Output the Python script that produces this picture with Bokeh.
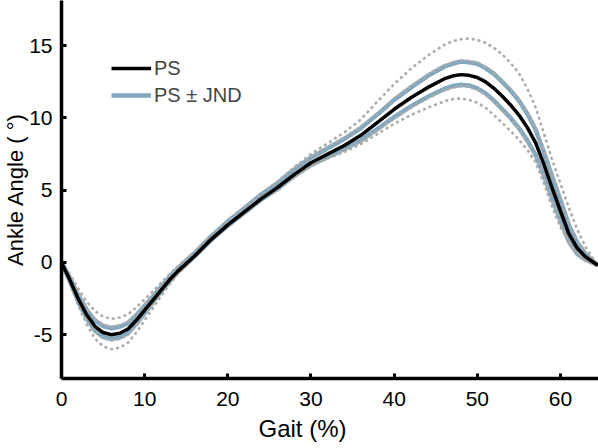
from bokeh.plotting import figure
from bokeh.models import (Range1d, Legend, LegendItem, Title, FixedTicker,
                          PrintfTickFormatter)
from bokeh.embed import file_html
from bokeh.resources import INLINE

# Gait cycle (%)
gait = [0, 1, 2, 3, 4, 5, 6, 7, 8, 9, 10, 11, 12, 13, 14, 16, 18, 20, 22, 24,
        26, 28, 30, 32, 34, 36, 38, 40, 42, 44, 46, 47, 48, 49, 50, 51, 52, 53,
        54, 55, 56, 57, 58, 59, 60, 61, 62, 63, 64, 64.5]

# Ankle angle (deg)
ps = [0, -1.2, -2.5, -3.6, -4.4, -4.85, -5.0, -4.9, -4.6, -4.0, -3.3, -2.6, -1.9,
      -1.2, -0.6, 0.45, 1.6, 2.6, 3.5, 4.4, 5.2, 6.1, 6.9, 7.5, 8.1, 8.8, 9.7,
      10.6, 11.4, 12.1, 12.7, 12.9, 13.0, 12.95, 12.8, 12.5, 12.05, 11.5, 10.9,
      10.2, 9.35, 8.3, 6.8, 5.15, 3.55, 2.0, 1.0, 0.4, 0.0, -0.2]

ps_plus_jnd = [0, -1.05, -2.25, -3.25, -4.0, -4.4, -4.55, -4.45, -4.2, -3.65,
               -3.0, -2.35, -1.65, -1.0, -0.4, 0.65, 1.8, 2.85, 3.75, 4.7, 5.5,
               6.45, 7.25, 7.9, 8.55, 9.3, 10.25, 11.25, 12.1, 12.9, 13.55,
               13.75, 13.9, 13.85, 13.75, 13.45, 13.05, 12.5, 11.9, 11.2, 10.3,
               9.2, 7.65, 5.95, 4.3, 2.6, 1.4, 0.6, 0.05, -0.2]

ps_minus_jnd = [0, -1.3, -2.7, -3.85, -4.7, -5.15, -5.3, -5.2, -4.9, -4.25,
                -3.5, -2.75, -2.0, -1.3, -0.65, 0.4, 1.55, 2.55, 3.45, 4.35,
                5.1, 6.0, 6.75, 7.3, 7.85, 8.45, 9.25, 10.05, 10.8, 11.45, 12.0,
                12.2, 12.3, 12.25, 12.05, 11.7, 11.2, 10.6, 10.0, 9.3, 8.45,
                7.45, 6.0, 4.4, 2.85, 1.45, 0.6, 0.2, -0.05, -0.2]

inner_upper = [0, -1.0, -2.15, -3.15, -3.9, -4.3, -4.45, -4.35, -4.1, -3.55,
               -2.9, -2.3, -1.6, -0.95, -0.35, 0.7, 1.85, 2.9, 3.8, 4.75, 5.6,
               6.55, 7.35, 8.0, 8.65, 9.4, 10.35, 11.35, 12.2, 13.0, 13.65,
               13.85, 14.0, 13.95, 13.85, 13.55, 13.15, 12.6, 12.0, 11.3, 10.4,
               9.3, 7.75, 6.05, 4.4, 2.7, 1.45, 0.65, 0.1, -0.2]

inner_lower = [0, -1.35, -2.8, -3.95, -4.8, -5.25, -5.4, -5.3, -5.0, -4.35,
               -3.6, -2.8, -2.05, -1.35, -0.7, 0.35, 1.5, 2.5, 3.4, 4.3, 5.0,
               5.9, 6.65, 7.2, 7.75, 8.35, 9.15, 9.95, 10.7, 11.35, 11.9, 12.1,
               12.2, 12.15, 11.95, 11.6, 11.1, 10.5, 9.9, 9.2, 8.35, 7.35, 5.9,
               4.3, 2.75, 1.35, 0.55, 0.15, -0.1, -0.25]

outer_upper = [0, -0.8, -1.8, -2.7, -3.35, -3.75, -3.9, -3.8, -3.6, -3.1,
               -2.55, -2.0, -1.4, -0.8, -0.25, 0.75, 1.85, 2.85, 3.8, 4.75, 5.6,
               6.6, 7.5, 8.25, 9.0, 9.9, 11.15, 12.35, 13.4, 14.3, 15.05, 15.3,
               15.45, 15.5, 15.4, 15.2, 14.85, 14.4, 13.8, 13.1, 12.05, 10.75,
               8.95, 7.1, 5.45, 3.8, 2.3, 1.1, 0.2, -0.2]

outer_lower = [0, -1.4, -2.95, -4.25, -5.25, -5.8, -6.0, -5.9, -5.55, -4.85,
               -4.0, -3.15, -2.3, -1.5, -0.8, 0.35, 1.55, 2.55, 3.45, 4.35, 5.1,
               5.95, 6.7, 7.2, 7.65, 8.2, 8.9, 9.6, 10.2, 10.7, 11.15, 11.3,
               11.35, 11.25, 11.05, 10.7, 10.2, 9.65, 9.1, 8.5, 7.8, 6.95, 5.5,
               3.85, 2.45, 1.4, 0.65, 0.2, -0.1, -0.2]

x_ticks = [0, 10, 20, 30, 40, 50, 60]
y_ticks = [-5, 0, 5, 10, 15]

FONT = "Liberation Sans"
BLUE = "#80a8bf"
GRAY = "#ababab"

p = figure(width=598, height=448, output_backend="svg", toolbar_location=None,
           x_range=Range1d(0, 64.57), y_range=Range1d(-8.03, 18.13),
           min_border_left=61, min_border_right=0, min_border_top=0,
           min_border_bottom=70)
p.outline_line_color = None
p.grid.visible = False
p.background_fill_color = "white"
p.border_fill_color = "white"

for ax in (p.xaxis[0], p.yaxis[0]):
    ax.axis_line_width = 3.5
    ax.axis_line_color = "black"
    ax.major_tick_in = 5
    ax.major_tick_out = 0
    ax.major_tick_line_width = 3
    ax.minor_tick_line_color = None
    ax.major_label_text_font = FONT
    ax.major_label_text_font_size = "21px"
    ax.major_label_text_color = "black"
    ax.axis_label_text_font = FONT
    ax.axis_label_text_font_size = "22px"
    ax.axis_label_text_font_style = "normal"
    ax.axis_label_text_color = "black"
    ax.formatter = PrintfTickFormatter(format="%d")

p.xaxis[0].ticker = FixedTicker(ticks=x_ticks)
p.yaxis[0].ticker = FixedTicker(ticks=y_ticks)
p.xaxis[0].major_label_standoff = 13
p.yaxis[0].major_label_standoff = 9
p.yaxis[0].axis_label = "Ankle Angle ( \u00b0)"
p.yaxis[0].axis_label_standoff = -2

# blue JND lines
b1 = p.line(gait, ps_plus_jnd, line_color=BLUE, line_width=4.5)
b2 = p.line(gait, ps_minus_jnd, line_color=BLUE, line_width=4.5)
# gray dotted
for ys in (inner_upper, inner_lower, outer_upper, outer_lower):
    p.line(gait, ys, line_color=GRAY, line_width=2.5, line_dash="3 3")
# black PS
k = p.line(gait, ps, line_color="black", line_width=3.5)

legend = Legend(items=[LegendItem(label="PS", renderers=[k]),
                       LegendItem(label="PS \u00b1 JND", renderers=[b1])],
                location=(50, 271), margin=0, padding=0,
                glyph_width=40, glyph_height=24, label_height=24,
                label_standoff=3, spacing=3,
                label_text_font=FONT, label_text_font_size="20px",
                background_fill_alpha=0, border_line_alpha=0)
p.add_layout(legend)

p.add_layout(Title(text="Gait (%)", align="left", offset=197,
                   text_font=FONT, text_font_size="24px",
                   text_font_style="normal", text_color="black", standoff=8),
             "below")

open("out.html", "w").write(file_html(p, INLINE))
